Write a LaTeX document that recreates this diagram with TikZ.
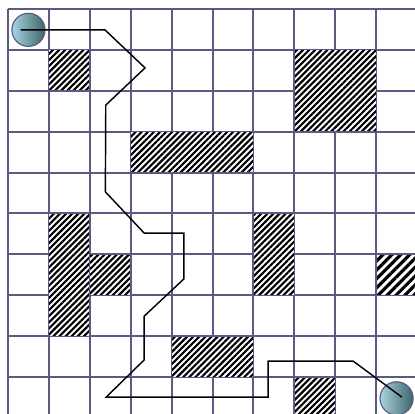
\documentclass[tikz,border=0pt]{standalone}
\usetikzlibrary{patterns.meta}
\definecolor{GridBlue}{HTML}{5A5A82}
\definecolor{BotLight}{HTML}{A8D4E0}
\definecolor{BotDark}{HTML}{3E6468}

\begin{document}
\begin{tikzpicture}[x=1cm,y=-1cm,
    gridline/.style={GridBlue,line width=1.4pt},
    wall/.style={pattern={Lines[angle=45,distance=3pt,line width=1.5pt]}},
    wallwide/.style={pattern={Lines[angle=45,distance=4.4pt,line width=2.2pt]}},
    robot/.style={circle,draw=GridBlue,line width=0.8pt,minimum size=0.81cm,
      inner sep=0pt,left color=BotLight,right color=BotDark},
    route/.style={black,line width=1pt}]
    \useasboundingbox (-0.196,-0.22) rectangle (9.951,9.902);
    \fill[white] (-0.196,-0.22) rectangle (9.951,9.902);
    % grid
    \foreach \i in {0,...,10}{
      \draw[gridline] (\i,0) -- (\i,10.3);
      \draw[gridline] (0,\i) -- (10.3,\i);}
    % obstacles
    \foreach \x/\y/\w/\h in {1/1/1/1,7/1/2/2,3/3/3/1,1/5/1/3,2/6/1/1,6/5/1/2,4/8/2/1,7/9/1/1}{
      \fill[white] (\x,\y) rectangle ++(\w,\h);
      \fill[wall] (\x,\y) rectangle ++(\w,\h);
      \draw[GridBlue,line width=0.7pt] (\x,\y) rectangle ++(\w,\h);}
    \fill[white] (9,6) rectangle ++(1,1);
    \fill[wallwide] (9,6) rectangle ++(1,1);
    \draw[GridBlue,line width=0.7pt] (9,6) rectangle ++(1,1);
    % start and goal
    \node[robot] (start) at (0.5,0.51) {};
    \node[robot] (goal) at (9.5,9.52) {};
    % route
    \coordinate (r0) at (0.31,0.51);
    \coordinate (r1) at (2.37,0.51);
    \coordinate (r2) at (3.35,1.44);
    \coordinate (r3) at (2.39,2.35);
    \coordinate (r4) at (2.38,4.47);
    \coordinate (r5) at (3.33,5.48);
    \coordinate (r6) at (4.30,5.48);
    \coordinate (r7) at (4.30,6.60);
    \coordinate (r8) at (3.33,7.51);
    \coordinate (r9) at (3.33,8.58);
    \coordinate (r10) at (2.40,9.49);
    \coordinate (r11) at (6.36,9.49);
    \coordinate (r12) at (6.36,8.61);
    \coordinate (r13) at (8.44,8.61);
    \coordinate (r14) at (9.63,9.49);
    \draw[route] (r0) -- (r1) -- (r2) -- (r3) -- (r4) -- (r5) -- (r6) -- (r7)
      -- (r8) -- (r9) -- (r10) -- (r11) -- (r12) -- (r13) -- (r14);
\end{tikzpicture}
\end{document}
